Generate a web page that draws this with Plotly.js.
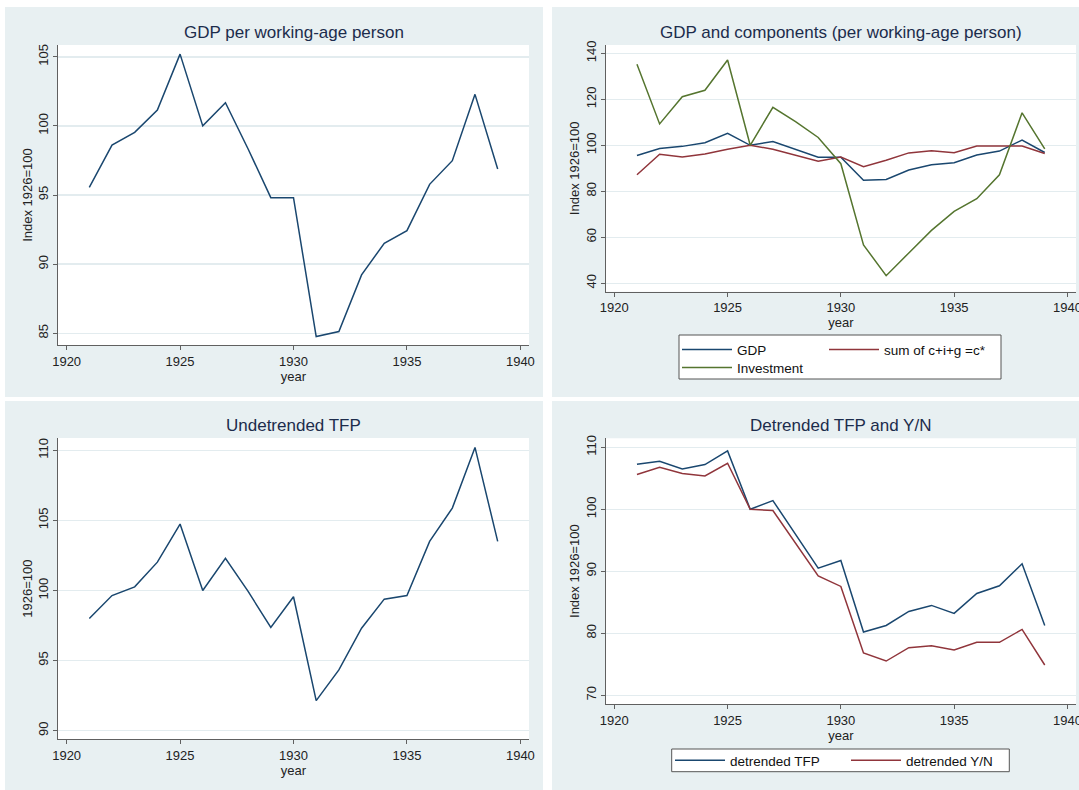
<!DOCTYPE html>
<html>
<head>
<meta charset="utf-8">
<script src="https://cdn.plot.ly/plotly-3.0.1.min.js"></script>
<style>
html,body{margin:0;padding:0;background:#fff;}
#chart{width:1079px;height:790px;}
</style>
</head>
<body>
<div id="chart"></div>
<script>
// ---- data ----
const years = [1921,1922,1923,1924,1925,1926,1927,1928,1929,1930,1931,1932,1933,1934,1935,1936,1937,1938,1939];
const gdp = [95.55,98.61,99.53,101.14,105.19,100,101.67,98.33,94.81,94.81,84.76,85.12,89.22,91.51,92.42,95.77,97.48,102.28,96.88];
const sumCIG = [87.2,96.1,94.9,96.2,98.3,100,98.3,95.7,93.1,94.9,90.7,93.5,96.7,97.6,96.8,99.7,99.7,99.7,96.4];
const investment = [135.2,109.3,121.1,123.9,137.1,100,116.5,110.3,103.4,92.0,56.7,43.3,53.2,63.0,71.3,76.8,87.2,114.1,98.4];
const tfp = [98.0,99.64,100.26,102.02,104.74,100,102.29,99.93,97.36,99.55,92.14,94.33,97.31,99.38,99.64,103.5,105.88,110.21,103.5];
const detTFP = [107.26,107.74,106.51,107.21,109.41,100,101.41,95.88,90.51,91.74,80.2,81.27,83.53,84.5,83.21,86.43,87.67,91.21,81.27];
const detYN = [105.6,106.78,105.76,105.38,107.42,100,99.8,94.64,89.27,87.56,76.82,75.53,77.68,78.0,77.3,78.54,78.54,80.63,74.89];

const xTicks = [1920,1925,1930,1935,1940];
const yTicks1 = [85,90,95,100,105];
const yTicks2 = [40,60,80,100,120,140];
const yTicks3 = [90,95,100,105,110];
const yTicks4 = [70,80,90,100,110];

const panelTitles = ["GDP per working-age person","GDP and components (per working-age person)","Undetrended TFP","Detrended TFP and Y/N"];
const yTitles = ["Index 1926=100","Index 1926=100","1926=100","Index 1926=100"];
const xTitle = "year";
const seriesNames = {gdp:"GDP", sum:"sum of c+i+g =c*", inv:"Investment", dtfp:"detrended TFP", dyn:"detrended Y/N"};

// ---- styling ----
const W = 1079, H = 790;
const X = p => p / W;
const Y = p => 1 - p / H;
const NAVY = "#1a476f", MAROON = "#90353b", GREEN = "#55752f";
const PANEL = "#e8f0f2", GRID = "#e3ecef", AXIS = "#606060";
const FONT = "Arial, 'Liberation Sans', sans-serif";

// plot areas in pixels [left, right, top, bottom]
const P1 = [58, 529, 45, 345];
const P2 = [605.7, 1076, 45, 291.7];
const P3 = [58, 529, 438, 739.3];
const P4 = [605.7, 1076, 438.3, 704];

function xAxis(P, anchor){
  return {
    domain:[X(P[0]), X(P[1])], anchor:anchor, automargin:false,
    range:[1919.62, 1940.38], tickvals:xTicks, ticktext:xTicks.map(String),
    showline:true, linecolor:AXIS, linewidth:1, ticks:"outside", ticklen:4, tickcolor:AXIS,
    showgrid:false, zeroline:false, ticklabeloverflow:"allow",
    tickfont:{family:FONT, size:13, color:"#222"},
    title:{text:xTitle, font:{family:FONT, size:13, color:"#222"}, standoff:0}
  };
}
function yAxis(P, anchor, range, ticks, title){
  return {
    domain:[Y(P[3]), Y(P[2])], anchor:anchor, automargin:false,
    range:range, tickvals:ticks, ticktext:ticks.map(String), tickangle:-90,
    showline:true, linecolor:AXIS, linewidth:1, ticks:"outside", ticklen:4, tickcolor:AXIS,
    showgrid:true, gridcolor:GRID, gridwidth:1.5, zeroline:false,
    tickfont:{family:FONT, size:13, color:"#222"},
    title:{text:title, font:{family:FONT, size:13, color:"#222"}, standoff:0}
  };
}

const line = (c) => ({color:c, width:1.5});

const traces = [
  {x:years, y:gdp, type:"scatter", mode:"lines", line:line(NAVY), xaxis:"x", yaxis:"y", showlegend:false, name:seriesNames.gdp},
  {x:years, y:gdp, type:"scatter", mode:"lines", line:line(NAVY), xaxis:"x2", yaxis:"y2", name:seriesNames.gdp, legend:"legend"},
  {x:years, y:sumCIG, type:"scatter", mode:"lines", line:line(MAROON), xaxis:"x2", yaxis:"y2", name:seriesNames.sum, legend:"legend2"},
  {x:years, y:investment, type:"scatter", mode:"lines", line:line(GREEN), xaxis:"x2", yaxis:"y2", name:seriesNames.inv, legend:"legend3"},
  {x:years, y:tfp, type:"scatter", mode:"lines", line:line(NAVY), xaxis:"x3", yaxis:"y3", showlegend:false, name:"TFP"},
  {x:years, y:detTFP, type:"scatter", mode:"lines", line:line(NAVY), xaxis:"x4", yaxis:"y4", name:seriesNames.dtfp, legend:"legend4"},
  {x:years, y:detYN, type:"scatter", mode:"lines", line:line(MAROON), xaxis:"x4", yaxis:"y4", name:seriesNames.dyn, legend:"legend5"}
];

const rect = (x0,x1,y0,y1,fill,lc) => ({type:"rect", xref:"paper", yref:"paper", layer:"below",
  x0:X(x0), x1:X(x1), y0:Y(y1), y1:Y(y0), fillcolor:fill, line:{width:lc?1:0, color:lc||fill}});

const shapes = [
  rect(5,543,7,397,PANEL), rect(552,1079,7,397,PANEL),
  rect(5,543,401,790,PANEL), rect(552,1079,401,790,PANEL),
  rect(P1[0],P1[1],P1[2],P1[3],"#fff"), rect(P2[0],P2[1],P2[2],P2[3],"#fff"),
  rect(P3[0],P3[1],P3[2],P3[3],"#fff"), rect(P4[0],P4[1],P4[2],P4[3],"#fff"),
  rect(679,1001,335,379,"#fff","#555"),
  rect(671.7,1009.3,749,771.7,"#fff","#555")
];

const titleFont = {family:FONT, size:17, color:"#1c2c4c"};
const ann = (t, cx, cy) => ({text:t, xref:"paper", yref:"paper", x:X(cx), y:Y(cy), xanchor:"center", yanchor:"middle", showarrow:false, font:titleFont});
const annotations = [
  ann(panelTitles[0], (P1[0]+P1[1])/2, 32.5),
  ann(panelTitles[1], (P2[0]+P2[1])/2, 32.5),
  ann(panelTitles[2], (P3[0]+P3[1])/2, 425),
  ann(panelTitles[3], (P4[0]+P4[1])/2, 425)
];

const legFont = {family:FONT, size:13.5, color:"#111"};
const leg = (lx, ty) => ({bgcolor:"rgba(0,0,0,0)", borderwidth:0, font:legFont, itemwidth:50,
  xanchor:"left", yanchor:"top", orientation:"v", tracegroupgap:0, itemclick:false, itemdoubleclick:false,
  x:X(lx), y:Y(ty)});

const layout = {
  width:W, height:H, margin:{l:0,r:0,t:0,b:0,autoexpand:false},
  paper_bgcolor:"#fff", plot_bgcolor:"rgba(0,0,0,0)",
  font:{family:FONT},
  xaxis:xAxis(P1,"y"), yaxis:yAxis(P1,"x",[84.15,105.85],yTicks1,yTitles[0]),
  xaxis2:xAxis(P2,"y2"), yaxis2:yAxis(P2,"x2",[36.35,143.6],yTicks2,yTitles[1]),
  xaxis3:xAxis(P3,"y3"), yaxis3:yAxis(P3,"x3",[89.38,110.88],yTicks3,yTitles[2]),
  xaxis4:xAxis(P4,"y4"), yaxis4:yAxis(P4,"x4",[68.6,111.45],yTicks4,yTitles[3]),
  shapes:shapes, annotations:annotations,
  legend:leg(677, 334.3),
  legend2:leg(824, 334.3),
  legend3:leg(677, 352.3),
  legend4:leg(670, 745),
  legend5:leg(846, 745),
  showlegend:true
};

Plotly.newPlot("chart", traces, layout, {displayModeBar:false, staticPlot:true});
</script>
</body>
</html>
